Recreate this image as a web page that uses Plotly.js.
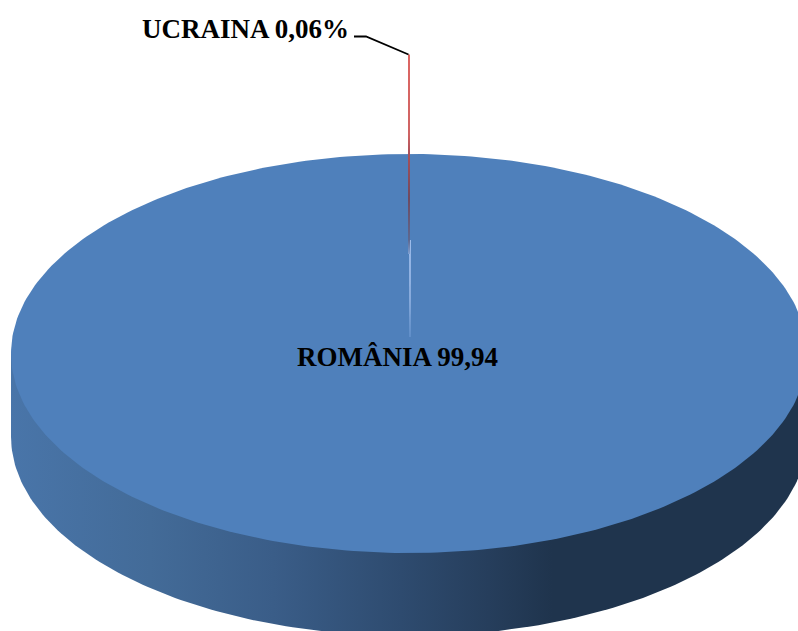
<!DOCTYPE html>
<html><head><meta charset="utf-8">
<script src="https://cdn.plot.ly/plotly-3.0.0.min.js"></script>
<style>html,body{margin:0;padding:0;background:#fff}#c{width:798px;height:631px}</style>
</head><body><div id="c"></div>
<script>
const categories = ['ROMÂNIA', 'UCRAINA'];
const values = [99.94, 0.06];
const labelTexts = ['ROMÂNIA 99,94', 'UCRAINA 0,06%'];
const topBlue = '#4f80bb';
const sideStops = [[0,'#4975a9'],[0.175,'#436b98'],[0.33,'#3a5d88'],[0.49,'#2e4b6f'],[0.6,'#263e5c'],[0.68,'#1f344d'],[1,'#1f344d']];
const sliverTopStops = [[0,'#dd6663'],[0.4,'#cf6464'],[0.5,'#a94f58'],[0.72,'#6f4a60'],[0.93,'#5c6890'],[1,'#7f9fd0']];
const sliverCutStops = [[0,'#9dbcea'],[0.6,'#8fb0e0'],[1,'#6391cb']];

const cx = 409, cy = 353.5, rx = 398, ry = 199.5, depth = 83, explode = 99.5;
const total = values.reduce((a, b) => a + b, 0);
const sliverAngle = values[1] / total * 2 * Math.PI;
const ell = (t, dy) => [cx + rx * Math.cos(t), cy + ry * Math.sin(t) + (dy || 0)];
const range = (a, b, n) => Array.from({length: n + 1}, (_, i) => a + (b - a) * i / n);

// Large slice: top face
const topPts = range(0, 2 * Math.PI, 360).map(t => ell(t));
// Large slice: front side wall, closed by a chord hidden under the top face
const front = range(0, Math.PI, 180);
const sidePts = [ell(0)].concat(front.map(t => ell(t, depth)), [ell(Math.PI)]);
// Exploded thin slice
const half = Math.max(sliverAngle / 2, 0.0026);
const tipW = 1.0;
const rimL = rx * Math.sin(half), rimY = cy - ry - explode, apexY = cy - explode;
const sliverTopX = [cx - rimL, cx + rimL, cx + tipW, cx - tipW, cx - rimL];
const sliverTopY = [rimY, rimY, apexY, apexY, rimY];
const cutX = cx + 1;
const sliverCutX = [cutX - tipW, cutX + tipW, cutX + tipW * 0.8, cutX - tipW * 0.8, cutX - tipW];
const sliverCutY = [apexY - 14, apexY - 14, apexY + depth, apexY + depth, apexY - 14];

const poly = (pts, extra) => Object.assign({
  x: pts.map(p => p[0]), y: pts.map(p => p[1]), type: 'scatter', mode: 'lines',
  fill: 'toself', line: {width: 0}, hoverinfo: 'skip', showlegend: false
}, extra);

const traces = [
  poly(sidePts, {name: categories[0] + ' side', fillcolor: '#33527a',
    fillgradient: {type: 'horizontal', colorscale: sideStops, start: cx - rx, stop: cx + rx}}),
  poly(topPts, {name: categories[0], fillcolor: topBlue}),
  poly(sliverCutX.map((x, i) => [x, sliverCutY[i]]), {name: categories[1] + ' cut', fillcolor: '#8fb0e0',
    fillgradient: {type: 'vertical', colorscale: sliverCutStops, start: apexY - 14, stop: apexY + depth}}),
  poly(sliverTopX.map((x, i) => [x, sliverTopY[i]]), {name: categories[1], fillcolor: '#c0504d',
    fillgradient: {type: 'vertical', colorscale: sliverTopStops, start: rimY, stop: apexY}}),
  {x: [354, 366, cx - 0.5], y: [36.5, 36.5, rimY], type: 'scatter', mode: 'lines',
   line: {color: '#000', width: 1.8}, hoverinfo: 'skip', showlegend: false}
];

const font = {family: '"Liberation Serif","Times New Roman",serif', size: 27, color: '#000'};
const layout = {
  width: 798, height: 631, margin: {l: 0, r: 0, t: 0, b: 0}, showlegend: false,
  paper_bgcolor: '#fff', plot_bgcolor: '#fff',
  xaxis: {range: [0, 798], visible: false, fixedrange: true},
  yaxis: {range: [631, 0], visible: false, fixedrange: true},
  annotations: [
    {x: 397.5, y: 356.5, text: '<b>' + labelTexts[0] + '</b>', showarrow: false, font, xanchor: 'center', yanchor: 'middle'},
    {x: 245, y: 28.5, text: '<b>' + labelTexts[1] + '</b>', showarrow: false, font, xanchor: 'center', yanchor: 'middle'}
  ]
};
Plotly.newPlot('c', traces, layout, {staticPlot: true, displayModeBar: false});
</script></body></html>
